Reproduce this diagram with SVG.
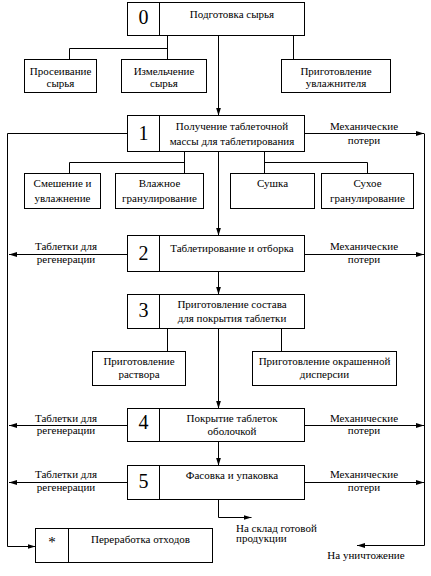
<svg xmlns="http://www.w3.org/2000/svg" width="431" height="576" viewBox="0 0 431 576">
<style>
.box{fill:#fff;stroke:#000;stroke-width:1}
.ln{fill:none;stroke:#000;stroke-width:1}
.t{font-family:"Liberation Serif","Times New Roman",serif;font-size:11px;fill:#000;text-anchor:middle}
.l{text-anchor:start}
.num{font-size:20px}
.ast{font-size:15px}
</style>
<defs>
<marker id="ah" markerUnits="userSpaceOnUse" markerWidth="9" markerHeight="6" refX="8" refY="3" orient="auto">
<path d="M0,0.5 L8,3 L0,5.5 Z" fill="#000"/>
</marker>
</defs>
<rect width="431" height="576" fill="#fff"/>
<g id="connectors" class="ln">
<path d="M218.5,35.5 V115.5" marker-end="url(#ah)"/>
<path d="M167.5,35.5 V59.5"/>
<path d="M69.5,59.5 V48.5 H167.5"/>
<path d="M293.5,35.5 V59.5"/>
<path d="M127.5,133.5 H7.5 V546.5 H35.5" marker-end="url(#ah)"/>
<path d="M304.5,133.5 H424" marker-end="url(#ah)"/>
<path d="M424.5,133.5 V545.5 H357" marker-end="url(#ah)"/>
<path d="M184.5,151.5 V173.5"/>
<path d="M69.5,173.5 V162.5 H184.5"/>
<path d="M264.5,151.5 V173.5"/>
<path d="M264.5,162.5 H367.5 V173.5"/>
<path d="M218.5,151.5 V235.5" marker-end="url(#ah)"/>
<path d="M127.5,254.5 H9" marker-end="url(#ah)"/>
<path d="M304.5,254.5 H424" marker-end="url(#ah)"/>
<path d="M218.5,271.5 V294.5" marker-end="url(#ah)"/>
<path d="M167.5,328.5 V351.5"/>
<path d="M281.5,328.5 V351.5"/>
<path d="M218.5,328.5 V408.5" marker-end="url(#ah)"/>
<path d="M127.5,425.5 H9" marker-end="url(#ah)"/>
<path d="M304.5,425.5 H424" marker-end="url(#ah)"/>
<path d="M218.5,441.5 V465.5" marker-end="url(#ah)"/>
<path d="M127.5,482.5 H9" marker-end="url(#ah)"/>
<path d="M304.5,482.5 H424" marker-end="url(#ah)"/>
<path d="M218.5,499.5 V517.5 H251.5" marker-end="url(#ah)"/>
</g>
<g id="labels" class="t">
<text x="364" y="129.5">Механические</text>
<text x="364" y="144">потери</text>
<text x="66" y="249.5">Таблетки для</text>
<text x="66" y="263">регенерации</text>
<text x="364" y="249.5">Механические</text>
<text x="364" y="263">потери</text>
<text x="66" y="421.5">Таблетки для</text>
<text x="66" y="433.5">регенерации</text>
<text x="364" y="421.5">Механические</text>
<text x="364" y="433.5">потери</text>
<text x="66" y="477.5">Таблетки для</text>
<text x="66" y="491">регенерации</text>
<text x="364" y="477.5">Механические</text>
<text x="364" y="491">потери</text>
<text x="236" y="531.5" class="t l">На склад готовой</text>
<text x="236" y="542" class="t l">продукции</text>
<text x="366" y="558.5">На уничтожение</text>
</g>
<g id="step0">
<rect class="box" x="127.5" y="2.5" width="177" height="33"/>
<path class="ln" d="M159.5,2.5 V35.5"/>
<text class="t num" x="143.5" y="24">0</text>
<text class="t" x="232" y="17.5">Подготовка сырья</text>
</g>
<g id="sift">
<rect class="box" x="24.5" y="59.5" width="72" height="33"/>
<text class="t" x="60.5" y="74.5">Просеивание</text>
<text class="t" x="60.5" y="86.5">сырья</text>
</g>
<g id="grind">
<rect class="box" x="121.5" y="59.5" width="85" height="33"/>
<text class="t" x="164" y="74.5">Измельчение</text>
<text class="t" x="164" y="86.5">сырья</text>
</g>
<g id="moist">
<rect class="box" x="281.5" y="59.5" width="109" height="33"/>
<text class="t" x="336" y="74.5">Приготовление</text>
<text class="t" x="336" y="86.5">увлажнителя</text>
</g>
<g id="step1">
<rect class="box" x="127.5" y="115.5" width="177" height="36"/>
<path class="ln" d="M159.5,115.5 V151.5"/>
<text class="t num" x="143.5" y="139.5">1</text>
<text class="t" x="232" y="129.5">Получение таблеточной</text>
<text class="t" x="232" y="145">массы для таблетирования</text>
</g>
<g id="mix">
<rect class="box" x="24.5" y="173.5" width="76" height="35"/>
<text class="t" x="62.5" y="187">Смешение и</text>
<text class="t" x="62.5" y="202">увлажнение</text>
</g>
<g id="wetgran">
<rect class="box" x="115.5" y="173.5" width="88" height="35"/>
<text class="t" x="159.5" y="187">Влажное</text>
<text class="t" x="159.5" y="202">гранулирование</text>
</g>
<g id="dry">
<rect class="box" x="230.5" y="173.5" width="84" height="35"/>
<text class="t" x="272.5" y="187">Сушка</text>
</g>
<g id="drygran">
<rect class="box" x="321.5" y="173.5" width="92" height="35"/>
<text class="t" x="367.5" y="187">Сухое</text>
<text class="t" x="367.5" y="202">гранулирование</text>
</g>
<g id="step2">
<rect class="box" x="127.5" y="235.5" width="177" height="36"/>
<path class="ln" d="M159.5,235.5 V271.5"/>
<text class="t num" x="143.5" y="259.5">2</text>
<text class="t" x="232" y="251.5">Таблетирование и отборка</text>
</g>
<g id="step3">
<rect class="box" x="127.5" y="294.5" width="177" height="34"/>
<path class="ln" d="M159.5,294.5 V328.5"/>
<text class="t num" x="143.5" y="316.5">3</text>
<text class="t" x="232" y="307.5">Приготовление состава</text>
<text class="t" x="232" y="321.5">для покрытия таблетки</text>
</g>
<g id="solution">
<rect class="box" x="92.5" y="351.5" width="93" height="34"/>
<text class="t" x="139" y="364.5">Приготовление</text>
<text class="t" x="139" y="378">раствора</text>
</g>
<g id="dispersion">
<rect class="box" x="252.5" y="351.5" width="144" height="34"/>
<text class="t" x="324.5" y="364.5">Приготовление окрашенной</text>
<text class="t" x="324.5" y="378">дисперсии</text>
</g>
<g id="step4">
<rect class="box" x="127.5" y="408.5" width="177" height="33"/>
<path class="ln" d="M159.5,408.5 V441.5"/>
<text class="t num" x="143.5" y="428.5">4</text>
<text class="t" x="232" y="421.5">Покрытие таблеток</text>
<text class="t" x="232" y="435">оболочкой</text>
</g>
<g id="step5">
<rect class="box" x="127.5" y="465.5" width="177" height="34"/>
<path class="ln" d="M159.5,465.5 V499.5"/>
<text class="t num" x="143.5" y="487.5">5</text>
<text class="t" x="232" y="478.5">Фасовка и упаковка</text>
</g>
<g id="waste">
<rect class="box" x="35.5" y="528.5" width="177" height="34"/>
<path class="ln" d="M68.5,528.5 V562.5"/>
<text class="t ast" x="52" y="547">*</text>
<text class="t" x="140.5" y="543">Переработка отходов</text>
</g>
</svg>
